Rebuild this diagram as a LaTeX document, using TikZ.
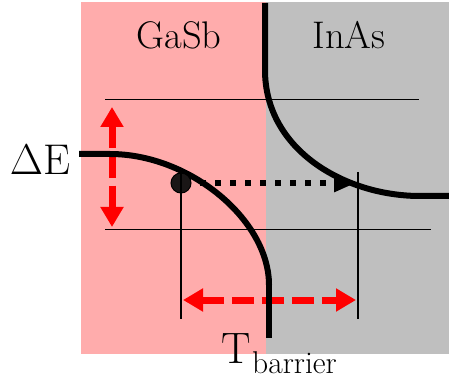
\documentclass[tikz,border=0pt]{standalone}
\usepackage{fix-cm}
\usetikzlibrary{arrows.meta}
\definecolor{gasbpink}{RGB}{255,172,172}
\definecolor{inasgray}{RGB}{191,191,191}
\definecolor{dotblack}{RGB}{26,22,22}

\begin{document}
\begin{tikzpicture}[x=1pt,y=-1pt,
  band/.style={line width=6pt},
  guide/.style={line width=1.8pt},
  lbl/.style={font=\fontsize{#1}{#1}\selectfont},
  redarrow/.style={red,line width=7pt,dash pattern=on 22pt off 8pt,
    {Triangle[length=20pt,width=22pt]}-{Triangle[length=20pt,width=22pt]}},
  tunnel/.style={line width=6pt,dash pattern=on 6pt off 9pt,
    -{Triangle[length=22pt,width=17pt]}}]
  \useasboundingbox (0,0) rectangle (449,379);
  % two layers
  \fill[gasbpink] (81,2) rectangle (266,354);
  \fill[inasgray] (266,2) rectangle (449,354);
  \node[anchor=base,lbl=38.5] (gasb) at (179,49) {GaSb};
  \node[anchor=base,lbl=38.5] (inas) at (349,49) {InAs};
  \node[anchor=base,inner sep=0pt,lbl=43] (de) at (40,175) {$\Delta$E};
  \node[anchor=base west,inner sep=0pt,lbl=44] (tt) at (221,363) {T};
  \node[anchor=base west,inner sep=0pt,lbl=31.5] (tsub) at (252,373) {barrier};
  % guide lines
  \draw[guide] (105,99.5) -- (419,99.5);
  \draw[guide] (105,229.5) -- (431,229.5);
  % red arrows
  \coordinate (dtop) at (112,107);
  \coordinate (dbot) at (112,227);
  \coordinate (tl) at (183,300);
  \coordinate (tr) at (356,300);
  \draw[redarrow] (dtop) -- (dbot);
  \draw[redarrow] (tl) -- (tr);
  % bands
  \draw[band] (79,154) -- (110,154) .. controls (190,154) and (269,220) .. (269,285);
  \draw[band] (269,285) -- (269,338);
  \draw[band] (265,3) -- (265,70) .. controls (265,150) and (345,196) .. (420,196) -- (449,196);
  % electron and tunnelling
  \node[circle,draw,fill=dotblack,line width=1pt,minimum size=20pt,inner sep=0pt] (el) at (181,183) {};
  \coordinate (land) at (356,183);
  \draw[tunnel] (200,183) -- (land);
  \draw[guide] (181,172) -- (181,319);
  \draw[guide] (358,172) -- (358,319);
\end{tikzpicture}
\end{document}
